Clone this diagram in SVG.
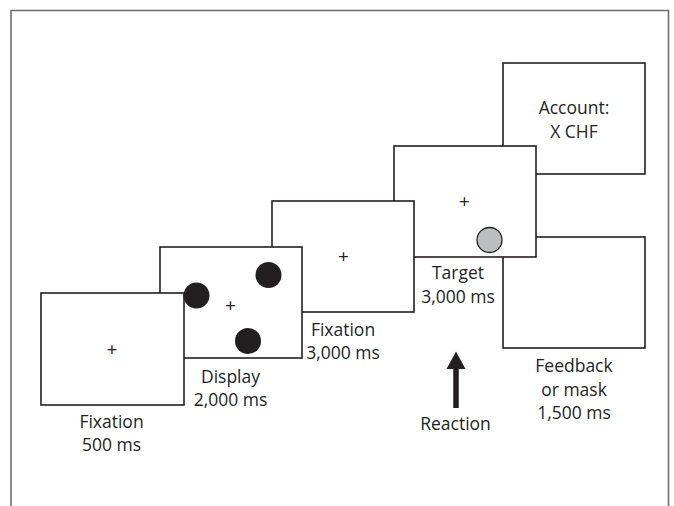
<svg xmlns="http://www.w3.org/2000/svg" width="674" height="506" viewBox="0 0 674 506">
<style>
.box{fill:#fff;stroke:#231f20;stroke-width:1.6}
.t{font-family:"Open Sans","Noto Sans",sans-serif;font-size:17.5px;fill:#231f20;text-anchor:middle}
.p{font-family:"Open Sans","Noto Sans",sans-serif;font-size:19px;fill:#231f20;text-anchor:middle}
.dot{fill:#231f20}
</style>
<rect width="674" height="506" fill="#fff"/>
<path d="M11,506 V10.5 H668.5 V506" fill="none" stroke="#6d6e71" stroke-width="1.6"/>
<g id="feedback">
<rect class="box" x="503" y="237" width="142" height="111"/>
<text class="t" x="574" y="372">Feedback</text>
<text class="t" x="574" y="396">or mask</text>
<text class="t" x="574" y="419">1,500 ms</text>
</g>
<g id="account">
<rect class="box" x="503" y="63" width="142" height="111"/>
<text class="t" x="574" y="114">Account:</text>
<text class="t" x="574" y="138">X CHF</text>
</g>
<g id="target">
<rect class="box" x="394" y="146" width="142" height="111"/>
<text class="p" x="464.5" y="208">+</text>
<circle cx="489.5" cy="240" r="12.5" fill="#bcbec0" stroke="#231f20" stroke-width="1.3"/>
<text class="t" x="458" y="279">Target</text>
<text class="t" x="458" y="303">3,000 ms</text>
</g>
<g id="fixation2">
<rect class="box" x="272" y="201" width="142" height="111"/>
<text class="p" x="343.5" y="263">+</text>
<text class="t" x="343" y="336">Fixation</text>
<text class="t" x="343" y="359">3,000 ms</text>
</g>
<g id="display">
<rect class="box" x="160" y="247" width="142" height="111"/>
<text class="p" x="230.5" y="312">+</text>
<circle class="dot" cx="268.5" cy="275" r="13"/>
<circle class="dot" cx="248" cy="341" r="13"/>
<text class="t" x="230.5" y="383">Display</text>
<text class="t" x="230.5" y="406">2,000 ms</text>
</g>
<g id="fixation1">
<rect class="box" x="41" y="293" width="143" height="112"/>
<text class="p" x="112" y="356">+</text>
<text class="t" x="111.5" y="428">Fixation</text>
<text class="t" x="111.5" y="451">500 ms</text>
</g>
<circle class="dot" cx="196.5" cy="295.5" r="13"/>
<g id="connectors">
<path d="M456,408 V367" stroke="#231f20" stroke-width="5.5" fill="none"/>
<path d="M446.5,369 L456,351.5 L465.5,369 Z" fill="#231f20"/>
</g>
<g id="reaction">
<text class="t" x="455.5" y="430">Reaction</text>
</g>
</svg>
